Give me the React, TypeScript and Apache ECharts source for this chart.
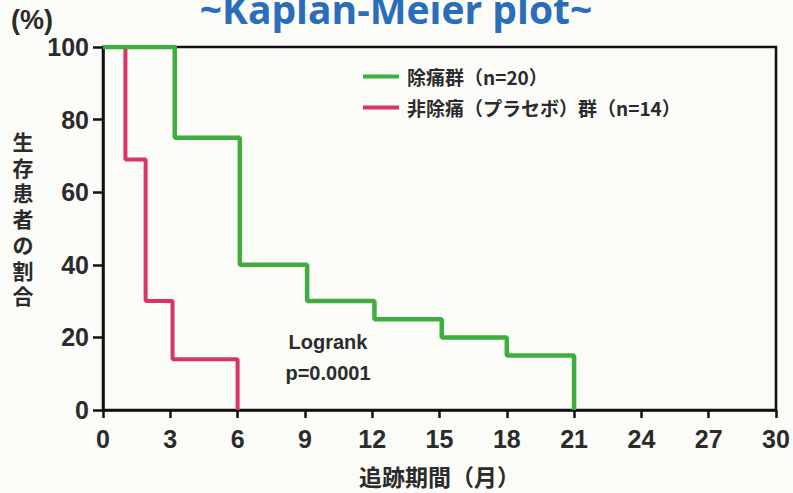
import React, { useEffect, useRef } from "react";
import * as echarts from "echarts";

const greenName = "除痛群（n=20）";
const redName = "非除痛（プラセボ）群（n=14）";
const greenTimes = [0, 3.2, 6.1, 9.1, 12.1, 15.1, 18, 21];
const greenSurv = [100, 75, 40, 30, 25, 20, 15, 0];
const redTimes = [0, 1, 1.9, 3.1, 6];
const redSurv = [100, 69, 30, 14, 0];
const xTicks = [0, 3, 6, 9, 12, 15, 18, 21, 24, 27, 30];
const yTicks = [0, 20, 40, 60, 80, 100];
const yNameChars = ["生", "存", "患", "者", "の", "割", "合"];

const GREEN = "#3fae3f";
const RED = "#d93462";
const TXT = "#2b2b2b";
const LAT = "'Liberation Sans', Arial, sans-serif";
const JP = "'Noto Sans CJK JP', sans-serif";

export default function App() {
  const ref = useRef<HTMLDivElement>(null);
  useEffect(() => {
    document.body.style.margin = "0";
    const chart = echarts.init(ref.current!, null, { renderer: "svg" });
    const zip = (t: number[], v: number[]) => t.map((x, i) => [x, v[i]]);
    const yNameGraphics = yNameChars.map((c, i) => ({
      type: "text",
      x: 23,
      y: 141 + i * 25.7,
      style: {
        text: c,
        fill: TXT,
        fontSize: 21,
        lineHeight: 22,
        fontWeight: "bold",
        fontFamily: JP,
        align: "center",
        verticalAlign: "middle",
      },
    }));
    chart.setOption({
      animation: false,
      backgroundColor: "#fbfbf8",
      grid: {
        left: 103,
        right: 17,
        top: 47,
        bottom: 83,
        containLabel: false,
        outerBoundsMode: "none",
        show: true,
        borderColor: "#111",
        borderWidth: 2.5,
      },
      xAxis: {
        type: "value",
        min: xTicks[0],
        max: xTicks[xTicks.length - 1],
        interval: 3,
        axisLine: { show: true, lineStyle: { color: "#111", width: 2.5 } },
        axisTick: { show: true, length: 8, lineStyle: { color: "#111", width: 2.5 } },
        splitLine: { show: false },
        axisLabel: { color: TXT, fontSize: 25, fontWeight: "bold", fontFamily: LAT, margin: 16 },
        name: "追跡期間（月）",
        nameLocation: "middle",
        nameGap: 54,
        nameTextStyle: { color: TXT, fontSize: 23, fontWeight: "bold", fontFamily: JP },
      },
      yAxis: {
        type: "value",
        min: yTicks[0],
        max: yTicks[yTicks.length - 1],
        interval: 20,
        axisLine: { show: true, lineStyle: { color: "#111", width: 2.5 } },
        axisTick: { show: true, length: 10, lineStyle: { color: "#111", width: 2.5 } },
        splitLine: { show: false },
        axisLabel: { color: TXT, fontSize: 25, fontWeight: "bold", fontFamily: LAT, margin: 14 },
      },
      legend: {
        orient: "vertical",
        left: 358,
        top: 62,
        itemGap: 12,
        icon: "rect",
        itemWidth: 36,
        itemHeight: 4,
        data: [greenName, redName],
        textStyle: { color: TXT, fontSize: 19, fontWeight: "bold", fontFamily: JP, padding: [0, 0, 0, 3] },
      },
      graphic: [
        {
          type: "text",
          x: 396,
          y: 28,
          style: {
            text: "~Kaplan-Meier plot~",
            fill: "#2a6db8",
            fontSize: 39,
            fontWeight: "bold",
            fontFamily: "'Open Sans', 'Liberation Sans', sans-serif",
            align: "center",
            verticalAlign: "bottom",
          },
        },
        {
          type: "text",
          x: 11,
          y: 20,
          style: { text: "(%)", fill: TXT, fontSize: 27, fontWeight: "bold", fontFamily: LAT, verticalAlign: "middle" },
        },
        ...yNameGraphics,
        {
          type: "text",
          x: 328,
          y: 357,
          style: {
            text: "Logrank\np=0.0001",
            fill: TXT,
            fontSize: 20,
            lineHeight: 31,
            fontWeight: "bold",
            fontFamily: LAT,
            align: "center",
            verticalAlign: "middle",
          },
        },
      ],
      series: [
        {
          name: redName,
          type: "line",
          step: "end",
          showSymbol: false,
          data: zip(redTimes, redSurv),
          lineStyle: { color: RED, width: 4 },
          itemStyle: { color: RED },
          z: 2,
        },
        {
          name: greenName,
          type: "line",
          step: "end",
          showSymbol: false,
          data: zip(greenTimes, greenSurv),
          lineStyle: { color: GREEN, width: 4.5 },
          itemStyle: { color: GREEN },
          z: 3,
        },
      ],
    });
    return () => chart.dispose();
  }, []);
  return <div ref={ref} style={{ position: "absolute", left: 0, top: 0, width: 793, height: 493 }} />;
}
